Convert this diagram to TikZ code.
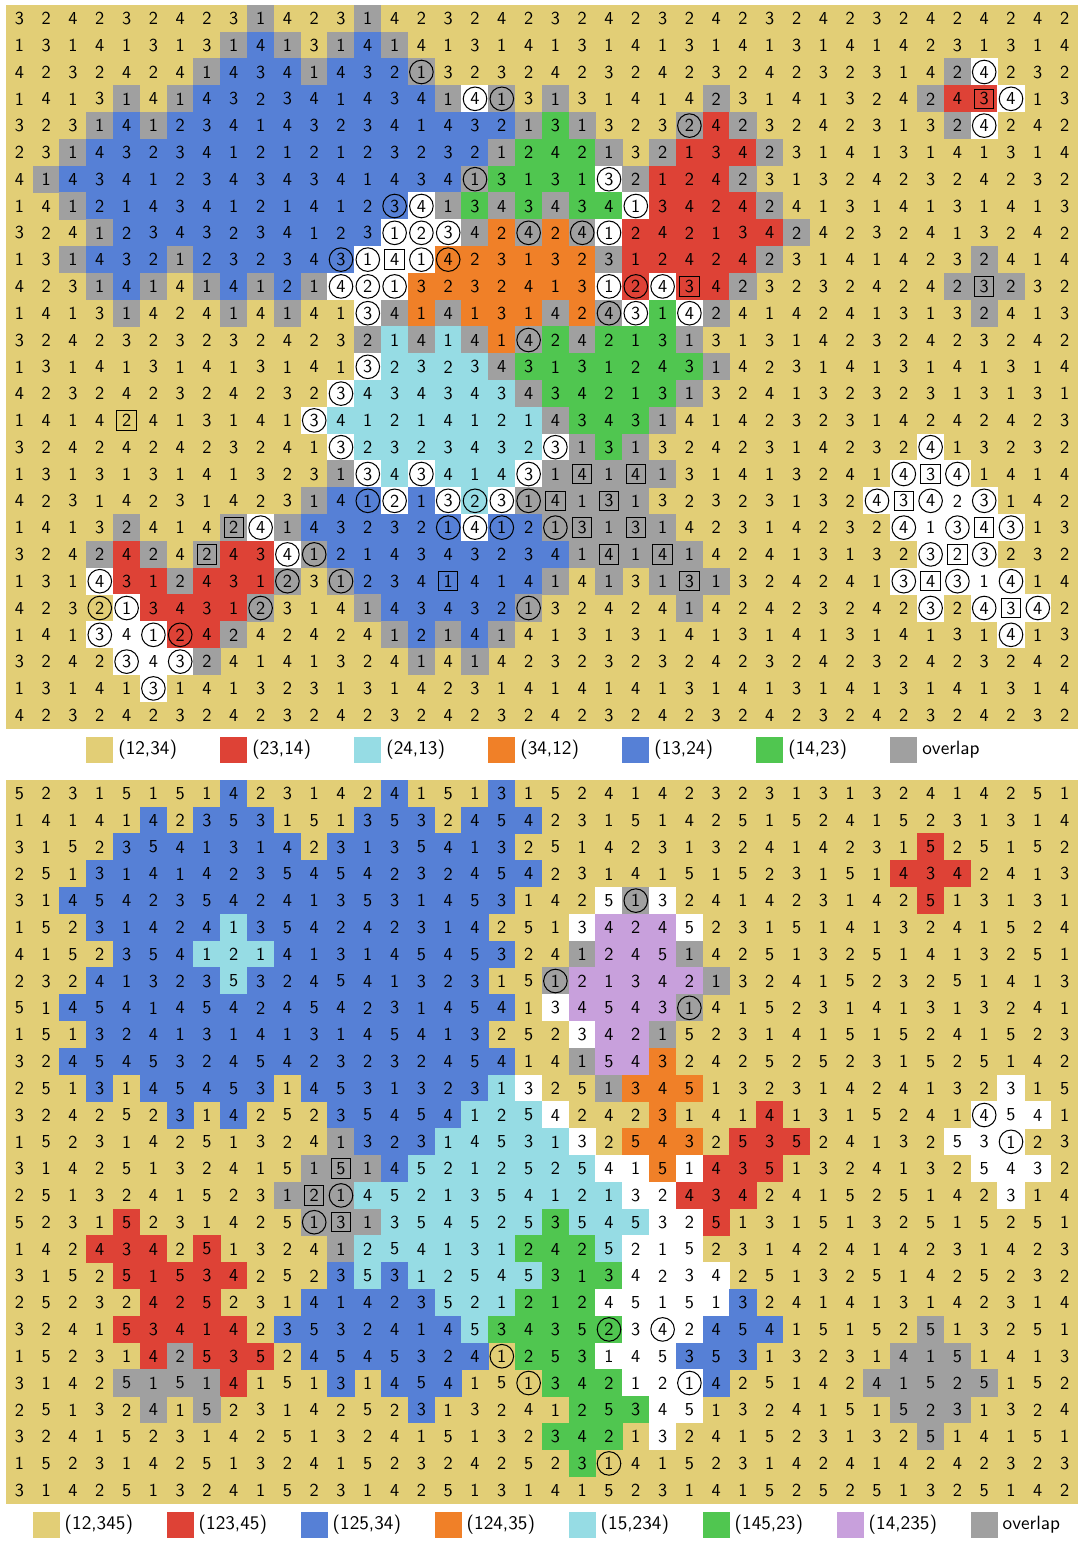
\documentclass[tikz,border=0pt]{standalone}
\usepackage{tikz}
\usetikzlibrary{calc}
\definecolor{cY}{RGB}{226,206,118}
\definecolor{cR}{RGB}{222,66,54}
\definecolor{cC}{RGB}{150,220,228}
\definecolor{cO}{RGB}{240,128,40}
\definecolor{cB}{RGB}{86,128,214}
\definecolor{cG}{RGB}{80,198,80}
\definecolor{cP}{RGB}{200,160,220}
\definecolor{cX}{RGB}{160,160,160}
\definecolor{cW}{RGB}{255,255,255}
\newcount\gcol
\def\cellrow#1#2#3{\gcol=0 \def\crow{#1}\cellparse#2\relax#3\relax}
\def\cellparse#1#2\relax#3#4\relax{%
  \advance\gcol by 1\relax
  \cellput{#1}{#3}%
  \ifx\relax#2\relax\else\cellparse#2\relax#4\relax\fi}
\def\cellput#1#2{%
  \if#2Y\else\fill[c#2] (\the\gcol-1.01,1.01-\crow) rectangle (\the\gcol+0.01,-\crow-0.01);\fi
  \node[dig] at (\the\gcol-0.5,0.5-\crow) {#1};}

\begin{document}
\begin{tikzpicture}[x=0.5cm,y=0.5cm,
  dig/.style={font=\sffamily\fontsize{9.7}{11}\selectfont,inner sep=0pt},
  ring/.style={line width=0.55pt},
  boxm/.style={line width=0.55pt},
  lab/.style={font=\sffamily\fontsize{10.2}{12}\selectfont,right,inner sep=2.5pt}]
\fill[white] (-0.224,0.187) rectangle (40.074,-57.313);
\useasboundingbox (-0.224,0.187) rectangle (40.074,-57.313);

\fill[cY] (0,0) rectangle (40,-27);
\cellrow{1}{3242324231 4231423242 3242324232 4232424242}{YYYYYYYYYX YYYXYYYYYY YYYYYYYYYY YYYYYYYYYY}
\cellrow{2}{1314131314 1314141314 1314131413 1414231314}{YYYYYYYYXB XYXBXYYYYY YYYYYYYYYY YYYYYYYYYY}
\cellrow{3}{4232424143 4143213232 4232423242 3231424232}{YYYYYYYXBB BXBBBXYYYY YYYYYYYYYY YYYYYXWYYY}
\cellrow{4}{1413141432 3414341413 1314142314 1324243413}{YYYYXYXBBB BBBBBBXWXY XYYYYYXYYY YYYYXRRWYY}
\cellrow{5}{3231412341 4323414321 3132324232 4231324242}{YYYXBXBBBB BBBBBBBBBX GXYYYXRXYY YYYYYXWYYY}
\cellrow{6}{2314323412 1212323212 4213213423 1413141314}{YYXBBBBBBB BBBBBBBBXG GGXYXRRRXY YYYYYYYYYY}
\cellrow{7}{4143412343 4341434131 3132124231 3242324232}{YXBBBBBBBB BBBBBBBXGG GGWXRRRXYY YYYYYYYYYY}
\cellrow{8}{1412143412 1412341343 4341342424 1314131413}{YYXBBBBBBB BBBBBWXGXG XGGWRRRRXY YYYYYYYYYY}
\cellrow{9}{3241234323 4123123424 2412421342 4232413242}{YYYXBBBBBB BBBBWWWXOX OXWRRRRRRX YYYYYYYYYY}
\cellrow{10}{1314321232 3431414231 3231242423 1414232414}{YYXBBBXBBB BBBWWWOOOO OOXRRRRRXY YYYYYYXYYY}
\cellrow{11}{4231414141 2142132324 1312434232 3242423232}{YYYXBXYXBX BXWWWOOOOO OOWRWRRXYY YYYYYXXXYY}
\cellrow{12}{1413142414 1413414131 4243142414 2413132413}{YYYYXYYYXY XYYWXOXOOO XOXWGWXYYY YYYYYYXYYY}
\cellrow{13}{3242323232 4232141414 2421313131 4232423242}{YYYYYYYYYY YYYXCXCXOX GXGGGXYYYY YYYYYYYYYY}
\cellrow{14}{1314131413 1413232343 1312431423 1413141314}{YYYYYYYYYY YYYWCCCCXG GGGGGGXYYY YYYYYYYYYY}
\cellrow{15}{4232423242 3234343434 3421313241 3232313131}{YYYYYYYYYY YYWCCCCCCX GGGGGXYYYY YYYYYYYYYY}
\cellrow{16}{1414241314 1341214121 4343141423 2314242423}{YYYYYYYYYY YWCCCCCCCC XGGGXYYYYY YYYYYYYYYY}
\cellrow{17}{3242424232 4132323432 3131324231 4232413232}{YYYYYYYYYY YYWCCCCCCC WXGXYYYYYY YYYYWYYYYY}
\cellrow{18}{1313131413 2313434143 1414131413 2414341414}{YYYYYYYYYY YYXWCWCCCW XXXXXYYYYY YYYWWWYYYY}
\cellrow{19}{4231423142 3141213231 4131323231 3243423142}{YYYYYYYYYY YXBBWBWCWX XXXXYYYYYY YYWWWWWYYY}
\cellrow{20}{1413241424 1432321412 1313142314 2324134313}{YYYYXYYYXW XBBBBBBWBB XXXXXYYYYY YYYWWWWWYY}
\cellrow{21}{3242424243 4121434323 4141414241 3132323232}{YYYXRXYXRR WXBBBBBBBB BXXXXXYYYY YYYYWWWYYY}
\cellrow{22}{1314312431 2312341414 1413131324 2413431414}{YYYWRRXRRR XYXBBBBBBB XYXYXXXYYY YYYWWWWWYY}
\cellrow{23}{4232134312 3141434321 3242414242 3242324342}{YYYYWRRRRX YYYXBBBBBX YYYYYXYYYY YYYYWYWWWY}
\cellrow{24}{1413412424 2424121414 1313141314 1314131413}{YYYWWWRRXY YYYYXBXBXY YYYYYYYYYY YYYYYYYWYY}
\cellrow{25}{3242343241 4132414142 3232324232 4232423242}{YYYYWWWXYY YYYYYXYXYY YYYYYYYYYY YYYYYYYYYY}
\cellrow{26}{1314131413 2313142314 1414131413 1413141314}{YYYYYWYYYY YYYYYYYYYY YYYYYYYYYY YYYYYYYYYY}
\cellrow{27}{4232423242 3242324232 4232423242 3242324232}{YYYYYYYYYY YYYYYYYYYY YYYYYYYYYY YYYYYYYYYY}
\foreach \cc/\rr in {16/3,37/3,18/4,19/4,38/4,26/5,37/5,18/7,23/7,15/8,16/8,24/8,
  15/9,16/9,17/9,20/9,22/9,23/9,13/10,14/10,16/10,17/10,13/11,14/11,15/11,23/11,24/11,25/11,
  14/12,23/12,24/12,26/12,20/13,14/14,13/15,12/16,13/17,21/17,35/17,
  14/18,16/18,20/18,34/18,36/18,14/19,15/19,17/19,18/19,19/19,20/19,33/19,35/19,37/19,
  10/20,17/20,18/20,19/20,21/20,34/20,36/20,38/20,11/21,12/21,35/21,37/21,
  4/22,11/22,13/22,34/22,36/22,38/22,4/23,5/23,10/23,20/23,35/23,37/23,39/23,
  4/24,6/24,7/24,38/24,5/25,7/25,6/26}
  \draw[ring] (\cc-0.5,0.5-\rr) circle (0.44);
\foreach \cc/\rr in {37/4,15/10,26/11,37/11,5/16,22/18,24/18,35/18,21/19,23/19,34/19,
  9/20,22/20,24/20,37/20,8/21,23/21,25/21,36/21,17/22,26/22,35/22,38/23}
  \draw[boxm] (\cc-0.86,0.86-\rr) rectangle ++(0.72,-0.72);
\foreach \kk/\cl/\lbl in {0/cY/{(12,34)},1/cR/{(23,14)},2/cC/{(24,13)},3/cO/{(34,12)},
  4/cB/{(13,24)},5/cG/{(14,23)},6/cX/{overlap}}{
  \fill[\cl] ({3+5*\kk},-27.3) rectangle ++(1,-1);
  \node[lab] at ({4+5*\kk},-27.8) {\lbl};
}

\begin{scope}[yshift=-14.459cm]
\fill[cY] (0,0) rectangle (40,-27);
\cellrow{1}{5231515142 3142415131 5241423231 3132414251}{YYYYYYYYBY YYYYBYYYBY YYYYYYYYYY YYYYYYYYYY}
\cellrow{2}{1414142353 1513532454 2315142515 2415231314}{YYYYYBYBBB YYYBBBYBBB YYYYYYYYYY YYYYYYYYYY}
\cellrow{3}{3152354131 4231354132 5142313241 4231525152}{YYYYBBBBBB BYBBBBBBBY YYYYYYYYYY YYYYRYYYYY}
\cellrow{4}{2513141423 5454232454 2314151523 1514342413}{YYYBBBBBBB BBBBBBBBBB YYYYYYYYYY YYYRRRYYYY}
\cellrow{5}{3145423542 4135314531 4251324142 3142513131}{YYBBBBBBBB BBBBBBBBBY YYWXWYYYYY YYYYRYYYYY}
\cellrow{6}{1523142413 5424231425 1342452315 1413241524}{YYYBBBBBCB BBBBBBBBYY YWPPPWYYYY YYYYYYYYYY}
\cellrow{7}{4152354121 4131454532 4124514251 3251413251}{YYYYBBBCCC BBBBBBBBBY YXPPPXYYYY YYYYYYYYYY}
\cellrow{8}{2324132353 2454132315 1213421324 1523251413}{YYYBBBBBCB BBBBBBBBYY XPPPPPXYYY YYYYYYYYYY}
\cellrow{9}{5145414542 4542314541 3454314152 3141313241}{YYBBBBBBBB BBBBBBBBBY WPPPPXYYYY YYYYYYYYYY}
\cellrow{10}{1513241314 1314541325 2342152314 1515241523}{YYYBBBBBBB BBBBBBBBYY YWPPXYYYYY YYYYYYYYYY}
\cellrow{11}{3245453245 4232324541 4154324252 5231525142}{YYBBBBBBBB BBBBBBBBBY YXPPOYYYYY YYYYYYYYYY}
\cellrow{12}{2513145453 1453132313 2513451323 1424132315}{YYYBYBBBBB YBBBBBBBCW YYXOOOYYYY YYYYYYYWYY}
\cellrow{13}{3242523142 5235454125 4242314141 3152414541}{YYYYYYBYBY YYBBBBBCCC WYYYOYYYRY YYYYYYWWWY}
\cellrow{14}{1523142513 2413231453 1325432535 2413253123}{YYYYYYYYYY YYXBBBCCCC CWYOOOYRRR YYYYYWWWYY}
\cellrow{15}{3142513241 5151452125 2541514351 3241325432}{YYYYYYYYYY YXXXBCCCCC CCWWOWRRRY YYYYYYWWWY}
\cellrow{16}{2513241523 1214521354 1213243424 1525142314}{YYYYYYYYYY XXXCCCCCCC CCCWWRRRYY YYYYYYYWYY}
\cellrow{17}{5231523142 5131354525 3545325131 5132515251}{YYYYRYYYYY YXXXCCCCCC GCCCWWRYYY YYYYYYYYYY}
\cellrow{18}{1424342513 2412541312 4252152314 2414231423}{YYYRRRYRYY YYXCCCCCCG GGCWWWYYYY YYYYYYYYYY}
\cellrow{19}{3152515342 5235312545 3134234251 3251425232}{YYYYRRRRRY YYBCBCCCCC GGGWWWWYYY YYYYYYYYYY}
\cellrow{20}{2523242523 1414235212 1245151324 1413142314}{YYYYYRRRYY YBBBBBCCCG GGWWWWWBYY YYYYYYYYYY}
\cellrow{21}{3241534142 3532414534 3523424541 5152513251}{YYYYRRRRRY BBBBBBBCGG GGGWWWBBBY YYYYXYYYYY}
\cellrow{22}{1523142535 2454532412 5314535313 2314151413}{YYYYYRXRRR YBBBBBBBYG GGWWWBBBYY YYYXXXYYYY}
\cellrow{23}{3142515141 5131454151 3421214251 4241525152}{YYYYXXXXRY YYBYBBBYYY GGGWWWBYYY YYXXXXXYYY}
\cellrow{24}{2513241523 1425231324 1253451324 1515231324}{YYYYYXYXYY YYYYYBYYYY YGGGWWYYYY YYYXXXYYYY}
\cellrow{25}{3241523142 5132415132 3421324152 3132514151}{YYYYYYYYYY YYYYYYYYYY GGGYWYYYYY YYYYXYYYYY}
\cellrow{26}{1523142513 2415232425 2314152314 2414242323}{YYYYYYYYYY YYYYYYYYYY YGYYYYYYYY YYYYYYYYYY}
\cellrow{27}{3142513241 5231425131 4152314152 5251325142}{YYYYYYYYYY YYYYYYYYYY YYYYYYYYYY YYYYYYYYYY}
\foreach \cc/\rr in {24/5,21/8,26/9,37/13,38/14,13/16,12/17,23/21,25/21,19/22,20/23,26/23,23/26}
  \draw[ring] (\cc-0.5,0.5-\rr) circle (0.44);
\foreach \cc/\rr in {13/15,12/16,13/17}
  \draw[boxm] (\cc-0.86,0.86-\rr) rectangle ++(0.72,-0.72);
\foreach \kk/\cl/\lbl in {0/cY/{(12,345)},1/cR/{(123,45)},2/cB/{(125,34)},3/cO/{(124,35)},
  4/cC/{(15,234)},5/cG/{(145,23)},6/cP/{(14,235)},7/cX/{overlap}}{
  \fill[\cl] ({1+5*\kk},-27.3) rectangle ++(1,-1);
  \node[lab] at ({2+5*\kk},-27.8) {\lbl};
}
\end{scope}
\end{tikzpicture}
\end{document}
